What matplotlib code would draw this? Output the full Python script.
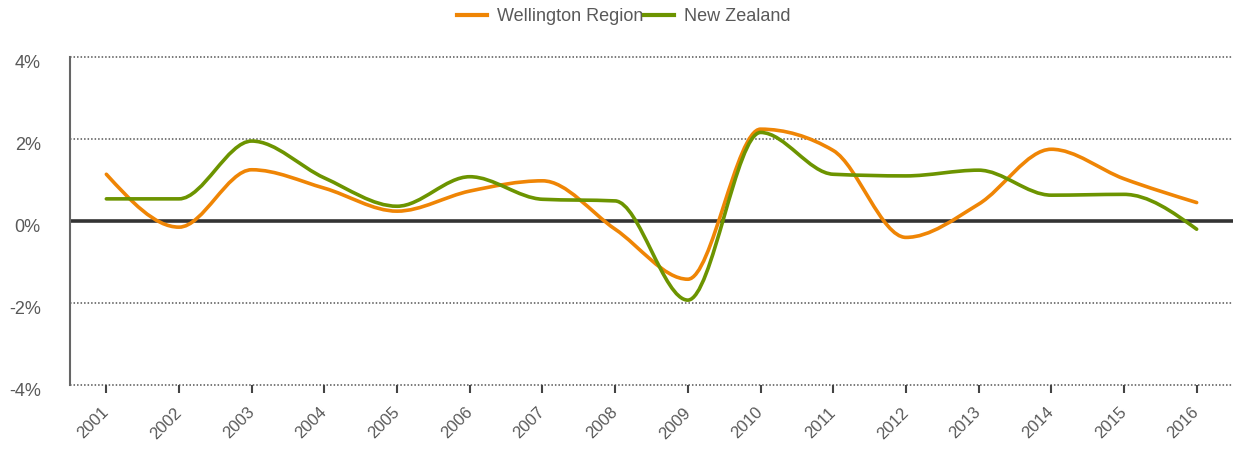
import numpy as np
import matplotlib
matplotlib.use("Agg")
import matplotlib.pyplot as plt
import matplotlib.transforms as mtransforms
from matplotlib.path import Path
from matplotlib.patches import PathPatch
from matplotlib.lines import Line2D

plt.rcParams['font.family'] = ['Liberation Sans', 'DejaVu Sans']

years = [str(y) for y in range(2001, 2017)]
wellington = [1.14, -0.15, 1.25, 0.80, 0.24, 0.73, 0.98, -0.20,
              -1.42, 2.24, 1.72, -0.40, 0.41, 1.75, 1.03, 0.45]
new_zealand = [0.54, 0.54, 1.95, 1.05, 0.36, 1.08, 0.53, 0.49,
               -1.93, 2.16, 1.14, 1.10, 1.24, 0.63, 0.65, -0.20]

ORANGE = '#EF8505'
GREEN = '#6C9400'
TEXT = '#595959'


def monotone_path(xs, ys):
    """Monotone cubic (d3 curveMonotoneX style) as Bezier path."""
    xs = np.asarray(xs, float)
    ys = np.asarray(ys, float)
    n = len(xs)
    h = np.diff(xs)
    s = np.diff(ys) / h
    t = np.zeros(n)
    for i in range(1, n - 1):
        p = (s[i - 1] * h[i] + s[i] * h[i - 1]) / (h[i - 1] + h[i])
        t[i] = (np.sign(s[i - 1]) + np.sign(s[i])) * min(abs(s[i - 1]), abs(s[i]), 0.5 * abs(p))
    t[0] = (3 * s[0] - t[1]) / 2
    t[-1] = (3 * s[-1] - t[-2]) / 2
    verts = [(xs[0], ys[0])]
    codes = [Path.MOVETO]
    for i in range(n - 1):
        dx = h[i] / 3
        verts += [(xs[i] + dx, ys[i] + dx * t[i]),
                  (xs[i + 1] - dx, ys[i + 1] - dx * t[i + 1]),
                  (xs[i + 1], ys[i + 1])]
        codes += [Path.CURVE4] * 3
    return Path(verts, codes)


fig = plt.figure(figsize=(12.35, 4.51), dpi=100)
ax = fig.add_axes([70 / 1235, 1 - 385 / 451, 1163 / 1235, 328 / 451])

x = np.arange(len(years))
ax.set_xlim(-0.5, len(years) - 0.5)
ax.set_ylim(-4, 4)

for v in [-4, -2, 2, 4]:
    ax.axhline(v, color='#555555', lw=1.1, ls=(0, (1, 1.3)), zorder=1, clip_on=False)
ax.axhline(0, color='#333333', lw=2.6, zorder=2)

for vals, col in [(wellington, ORANGE), (new_zealand, GREEN)]:
    ax.add_patch(PathPatch(monotone_path(x, vals), fill=False, edgecolor=col,
                           lw=2.6, capstyle='round', joinstyle='round', zorder=3))

ax.set_yticks([-4, -2, 0, 2, 4])
ax.set_yticklabels(['-4%', '-2%', '0%', '2%', '4%'])
ax.set_xticks(x)
ax.set_xticklabels(years, rotation=45, ha='right', va='center', rotation_mode='anchor')

ax.tick_params(axis='y', length=0, pad=21, labelsize=13, labelcolor=TEXT)
ax.tick_params(axis='x', length=6, width=1.5, color='#444444', direction='out',
               pad=12, labelsize=12, labelcolor=TEXT)

# y labels sit a little below their gridlines in the original
shift = mtransforms.ScaledTranslation(0, -4 / 100, fig.dpi_scale_trans)
for lbl in ax.get_yticklabels():
    lbl.set_transform(lbl.get_transform() + shift)

for sp in ['top', 'right', 'bottom']:
    ax.spines[sp].set_visible(False)
ax.spines['left'].set_color('#666666')
ax.spines['left'].set_linewidth(1.5)

handles = [Line2D([], [], color=ORANGE, lw=3),
           Line2D([], [], color=GREEN, lw=3)]
fig.legend(handles, ['Wellington Region', 'New Zealand'], loc='center',
           bbox_to_anchor=(0.505, 0.963), ncol=2, frameon=False, fontsize=13,
           handlelength=1.7, handletextpad=0.55, columnspacing=0.0,
           labelcolor=TEXT)

fig.savefig('out.png', dpi=100)
